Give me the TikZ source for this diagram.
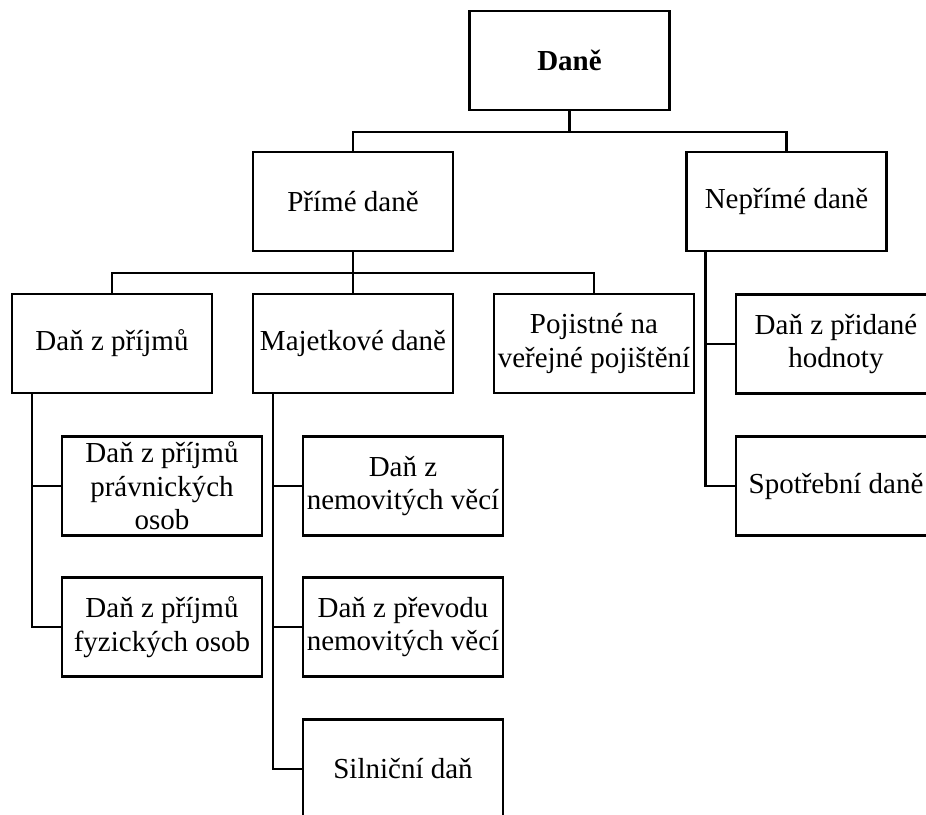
\documentclass[tikz,border=0pt]{standalone}
\usepackage{fontspec}
\setmainfont{Liberation Serif}
\usetikzlibrary{calc,positioning}

\begin{document}
\begin{tikzpicture}[x=1pt,y=-1pt,
  box/.style={draw,line width=2.4pt,minimum width=200pt,minimum height=99pt,
    inner sep=1pt,align=center,font=\fontsize{29}{33.5}\selectfont},
  conn/.style={line width=2.4pt}]
\useasboundingbox(0,0)rectangle(926,814);
% levels
\node[box,font=\fontsize{29}{33.5}\selectfont\bfseries](dane)at(569.5,60.5){Daně};
\node[box](prime)at(353,201.5){Přímé daně};
\node[box](neprime)at(786.5,201.5){Nepřímé daně};
\node[box](prijmy)at(112,343.5){Daň z příjmů};
\node[box](majetek)at(353,343.5){Majetkové daně};
\node[box](pojist)at(594,343.5){Pojistné na\\veřejné pojištění};
\node[box](pravnicke)at(162,486){Daň z příjmů\\právnických\\osob};
\node[box](fyzicke)at(162,627){Daň z příjmů\\fyzických osob};
\node[box](nemovite)at(403,486){Daň z\\nemovitých věcí};
\node[box](prevod)at(403,627){Daň z převodu\\nemovitých věcí};
\node[box](silnicni)at(403,769){Silniční daň};
\node[box](dph)at(836,344){Daň z přidané\\hodnoty};
\node[box](spotreba)at(836,486){Spotřební daně};
% connectors
\coordinate(j1)at(dane.south|-0,132);
\coordinate(j2)at(prime.south|-0,273);
\draw[conn](dane)--(j1);
\draw[conn](prime.north)|-(j1)-|(neprime.north);
\draw[conn](prime)--(majetek);
\draw[conn](prijmy.north)|-(j2)-|(pojist.north);
\coordinate(s1)at([xshift=21pt]prijmy.south west);
\coordinate(s2)at([xshift=21pt]majetek.south west);
\coordinate(s3)at([xshift=20pt]neprime.south west);
\draw[conn](s1)|-(fyzicke.west);
\draw[conn](pravnicke.west)--(pravnicke.west-|s1);
\draw[conn](s2)|-(silnicni.west);
\draw[conn](nemovite.west)--(nemovite.west-|s2);
\draw[conn](prevod.west)--(prevod.west-|s2);
\draw[conn](s3)|-(spotreba.west);
\draw[conn](dph.west)--(dph.west-|s3);
\end{tikzpicture}
\end{document}
